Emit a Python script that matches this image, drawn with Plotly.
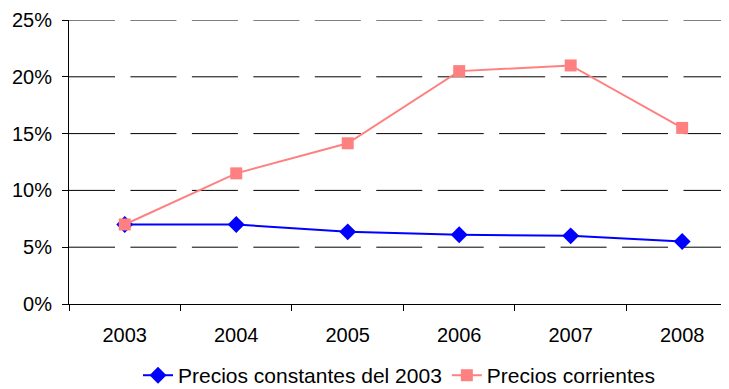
import plotly.graph_objects as go

years = ["2003", "2004", "2005", "2006", "2007", "2008"]
constantes = [7.0, 7.0, 6.35, 6.1, 6.0, 5.5]
corrientes = [7.0, 11.5, 14.15, 20.5, 21.0, 15.5]
y_ticks = [0, 5, 10, 15, 20, 25]
y_labels = [f"{v}%" for v in y_ticks]

fig = go.Figure()
fig.add_trace(go.Scatter(
    x=years, y=constantes, name="Precios constantes del 2003",
    mode="lines+markers",
    line=dict(color="#0000FF", width=2),
    marker=dict(symbol="diamond", size=13, color="#0000FF"),
))
fig.add_trace(go.Scatter(
    x=years, y=corrientes, name="Precios corrientes",
    mode="lines+markers",
    line=dict(color="#FF8080", width=2),
    marker=dict(symbol="square", size=12, color="#FF8080"),
))

# dashed horizontal gridlines at the y tick values, starting at the axis
for v in y_ticks[1:]:
    fig.add_shape(type="line", xref="paper", x0=0, x1=1, yref="y", y0=v, y1=v,
                  line=dict(color="black", width=1, dash="46px,15.45px"),
                  layer="below")

# page body has an 8px margin, so the figure is 8px smaller and offset
fig.update_layout(
    template="none",
    width=721, height=381,
    margin=dict(l=61, r=0, t=12, b=85, autoexpand=False),
    paper_bgcolor="white", plot_bgcolor="white",
    font=dict(family="Liberation Sans", size=20, color="black"),
    showlegend=True,
    legend=dict(orientation="h", x=0.5, xanchor="center", y=-0.252, yanchor="middle",
                font=dict(size=21), tracegroupgap=0, bgcolor="rgba(0,0,0,0)",
                borderwidth=0),
)
fig.update_xaxes(
    type="category", range=[-0.5, 5.42], automargin=False,
    showline=True, linecolor="black", linewidth=1,
    ticks="outside", tickson="boundaries", ticklen=6, tickcolor="black", tickwidth=1,
    ticklabelstandoff=13,
    showgrid=False, zeroline=False, fixedrange=True,
)
fig.update_yaxes(
    range=[0, 25], tickvals=y_ticks, ticktext=y_labels, automargin=False,
    showline=True, linecolor="black", linewidth=1,
    ticks="outside", ticklen=6, tickcolor="black", tickwidth=1,
    ticklabelstandoff=6,
    showgrid=False, zeroline=False, fixedrange=True,
)

fig.write_html("out.html")
